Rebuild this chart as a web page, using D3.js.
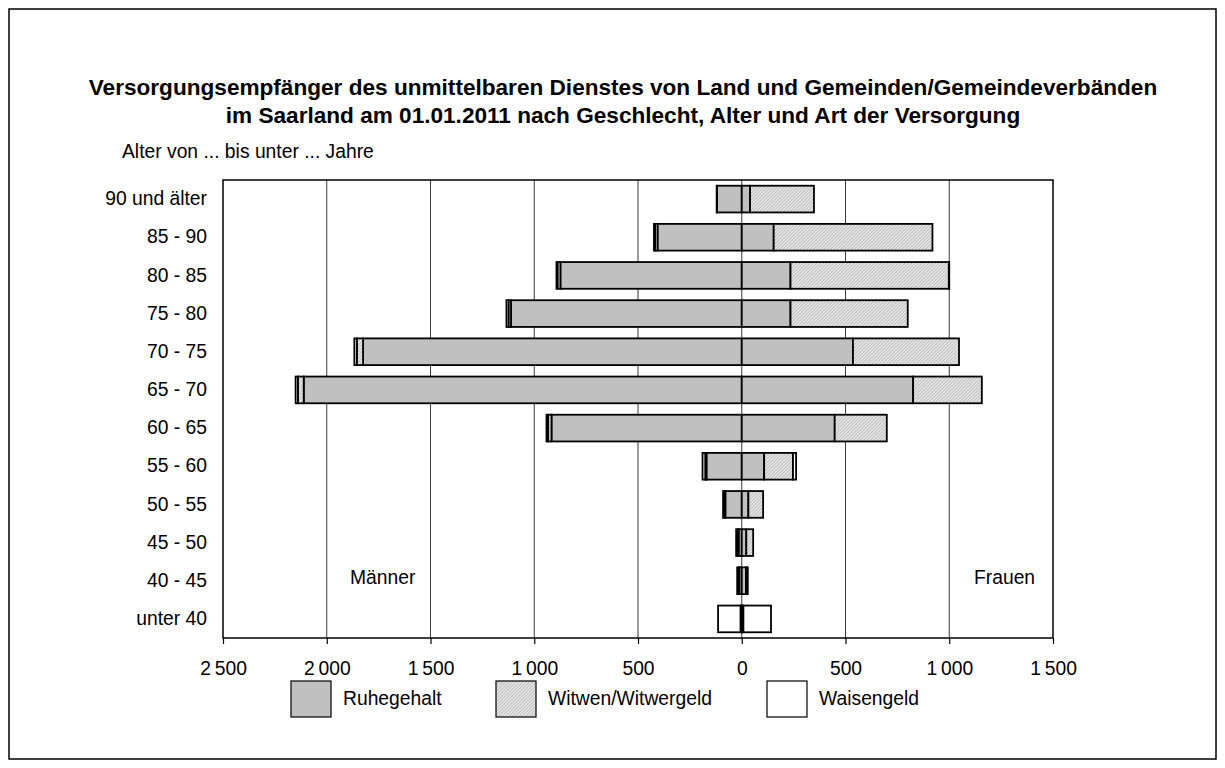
<!DOCTYPE html>
<html>
<head>
<meta charset="utf-8">
<script src="https://cdn.jsdelivr.net/npm/d3@7"></script>
<style>
  body { margin: 0; background: #fff; }
  text { font-family: "Liberation Sans", Arial, sans-serif; fill: #000; }
</style>
</head>
<body>
<div class="chart-div"></div>
<script>
//--------------------------- Data

var ages = ["90 und älter", "85 - 90", "80 - 85", "75 - 80", "70 - 75", "65 - 70",
            "60 - 65", "55 - 60", "50 - 55", "45 - 50", "40 - 45", "unter 40"];

// Männer (drawn to the left)
var menRuhe    = [119, 406, 874, 1112, 1825, 2111, 917, 170, 79, 15, 12, 6];
var menWitwer  = [2, 12, 14, 12, 30, 28, 16, 6, 4, 4, 2, 0];
var menWaisen  = [0, 5, 5, 10, 12, 11, 8, 13, 7, 8, 8, 108];

// Frauen (drawn to the right)
var womenRuhe   = [40, 154, 235, 235, 536, 826, 448, 108, 32, 22, 20, 8];
var womenWitwen = [308, 765, 763, 565, 511, 331, 251, 139, 71, 33, 6, 0];
var womenWaisen = [0, 0, 2, 0, 0, 0, 0, 15, 0, 0, 3, 133];

var seriesNames = ["Ruhegehalt", "Witwen/Witwergeld", "Waisengeld"];
var xTicks = [-2500, -2000, -1500, -1000, -500, 0, 500, 1000, 1500];

var titleLines = ["Versorgungsempfänger des unmittelbaren Dienstes von Land und Gemeinden/Gemeindeverbänden",
                  "im Saarland am 01.01.2011 nach Geschlecht, Alter und Art der Versorgung"];

//--------------------------- SVG definition

var width = 1225;
var height = 768;
var fontSize = "19.3px";

var svg = d3.select("div.chart-div")
    .append("svg")
    .attr("width", width)
    .attr("height", height);

var defs = svg.append("defs");
var hatch = defs.append("pattern")
    .attr("id", "hatch")
    .attr("patternUnits", "userSpaceOnUse")
    .attr("width", 2.4)
    .attr("height", 2.4)
    .attr("patternTransform", "rotate(45)");
hatch.append("rect").attr("width", 2.4).attr("height", 2.4).attr("fill", "#e6e6e6");
hatch.append("line").attr("x1", 0).attr("y1", 0).attr("x2", 0).attr("y2", 2.4)
    .attr("stroke", "#9a9a9a").attr("stroke-width", 1);

var fills = ["#c0c0c0", "url(#hatch)", "#ffffff"];

// outer frame
svg.append("rect")
    .attr("x", 9).attr("y", 9)
    .attr("width", 1207).attr("height", 750)
    .attr("fill", "none")
    .attr("stroke", "#000")
    .attr("stroke-width", 1.5);

//--------------------------- Title

svg.selectAll("text.title")
    .data(titleLines)
    .enter()
    .append("text")
    .attr("class", "title")
    .attr("x", 623)
    .attr("y", function (d, i) { return 95 + i * 28; })
    .attr("text-anchor", "middle")
    .style("font-size", "22.6px")
    .style("font-weight", "bold")
    .text(function (d) { return d; });

svg.append("text")
    .attr("x", 122)
    .attr("y", 158)
    .style("font-size", fontSize)
    .text("Alter von ... bis unter ... Jahre");

//--------------------------- Scales

var x = d3.scaleLinear()
    .domain([-2500, 1500])
    .range([223, 1053]);

var y = d3.scaleBand()
    .domain(ages)
    .range([180, 638])
    .paddingInner(0.3)
    .paddingOuter(0.15);

//--------------------------- Grid lines

svg.append("g")
    .selectAll("line")
    .data(xTicks.slice(1, -1))
    .enter()
    .append("line")
    .attr("x1", function (d) { return x(d); })
    .attr("x2", function (d) { return x(d); })
    .attr("y1", 180)
    .attr("y2", 638)
    .attr("stroke", "#3a3a3a")
    .attr("stroke-width", 1);

//--------------------------- Stacked bars

function stackRows(a, b, c, sign) {
    return ages.map(function (age, i) {
        var vals = [a[i], b[i], c[i]];
        var acc = 0;
        return vals.map(function (v, k) {
            var start = acc;
            acc += v;
            return { age: age, k: k, x0: sign * start, x1: sign * acc, v: v };
        });
    });
}

var rows = stackRows(menRuhe, menWitwer, menWaisen, -1)
    .concat(stackRows(womenRuhe, womenWitwen, womenWaisen, 1));

var segs = [];
rows.forEach(function (r) { r.forEach(function (s) { if (s.v > 0) segs.push(s); }); });

svg.append("g")
    .selectAll("rect")
    .data(segs)
    .enter()
    .append("rect")
    .attr("x", function (d) { return x(Math.min(d.x0, d.x1)); })
    .attr("width", function (d) { return Math.abs(x(d.x1) - x(d.x0)); })
    .attr("y", function (d) { return y(d.age); })
    .attr("height", y.bandwidth())
    .attr("fill", function (d) { return fills[d.k]; })
    .attr("stroke", "#000")
    .attr("stroke-width", 1.8);

//--------------------------- Plot frame and axes

svg.append("rect")
    .attr("x", 223).attr("y", 180)
    .attr("width", 830).attr("height", 458)
    .attr("fill", "none")
    .attr("stroke", "#000")
    .attr("stroke-width", 1.5);

var fmt = d3.formatLocale({ decimal: ",", thousands: "\u2009", grouping: [3], currency: ["", "€"] }).format(",");

var xAxis = svg.append("g")
    .attr("transform", "translate(0,638)")
    .call(d3.axisBottom(x)
        .tickValues(xTicks)
        .tickSize(6)
        .tickPadding(17)
        .tickFormat(function (d) { return fmt(Math.abs(d)); }));
xAxis.select(".domain").remove();
xAxis.selectAll("line").attr("stroke", "#000").attr("stroke-width", 1.2);
xAxis.selectAll("text")
    .style("font-size", fontSize)
    .style("font-family", "'Liberation Sans', Arial, sans-serif");

var yAxis = svg.append("g")
    .attr("transform", "translate(223,0)")
    .call(d3.axisLeft(y).tickSize(0).tickPadding(16));
yAxis.select(".domain").remove();
yAxis.selectAll("text")
    .style("font-size", fontSize)
    .style("font-family", "'Liberation Sans', Arial, sans-serif");

//--------------------------- Side labels

svg.append("text").attr("x", 350).attr("y", 584).style("font-size", fontSize).text("Männer");
svg.append("text").attr("x", 974).attr("y", 584).style("font-size", fontSize).text("Frauen");

//--------------------------- Legend

var legendX = [291, 496, 767];

var legend = svg.append("g")
    .selectAll("g")
    .data(seriesNames)
    .enter()
    .append("g")
    .attr("transform", function (d, i) { return "translate(" + legendX[i] + ",681)"; });

legend.append("rect")
    .attr("width", 40)
    .attr("height", 36)
    .attr("fill", function (d, i) { return fills[i]; })
    .attr("stroke", "#000")
    .attr("stroke-width", 1.2);

legend.append("text")
    .attr("x", 52)
    .attr("y", 24)
    .style("font-size", fontSize)
    .text(function (d) { return d; });
</script>
</body>
</html>
